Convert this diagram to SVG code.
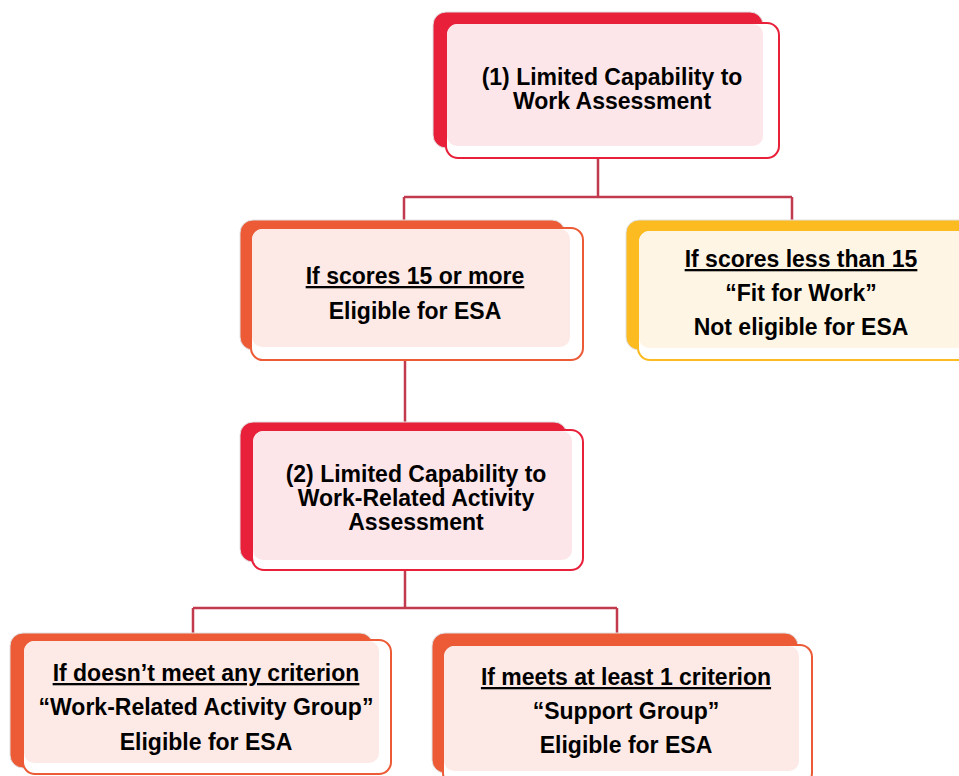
<svg xmlns="http://www.w3.org/2000/svg" width="959" height="776" viewBox="0 0 959 776">
<style>
text{font-family:"Liberation Sans",Arial,sans-serif;font-weight:bold;font-size:23px;fill:#000;text-anchor:middle}
.u{text-decoration:underline}
.conn{fill:none;stroke:#c23a4e;stroke-width:2.5}
.red .back{fill:#e8203a}
.red .frame{fill:#fff;stroke:#e8203a;stroke-width:2}
.red .fill{fill:#fde6e9}
.org .back{fill:#ec5a36}
.org .frame{fill:#fff;stroke:#ec5a36;stroke-width:2}
.org .fill{fill:#fdeae6}
.yel .back{fill:#fbbb21}
.yel .frame{fill:#fff;stroke:#fbbb21;stroke-width:2}
.yel .fill{fill:#fff5e5}
.back{stroke:#e0e0e0;stroke-width:1}
</style>
<rect width="959" height="776" fill="#fff"/>
<g id="connectors">
<path class="conn" d="M598 158V197M404 197H792M404 197V220M792 197V220"/>
<path class="conn" d="M405 360V422"/>
<path class="conn" d="M405 570V608M193 608H617M193 608V633M617 608V633"/>
</g>
<g id="node1" class="red">
<rect class="back" x="433" y="12" width="330" height="136" rx="13"/>
<rect class="frame" x="446" y="23" width="333" height="135" rx="12"/>
<rect class="fill" x="447" y="24" width="316" height="122" rx="10"/>
<text x="612" y="85">(1) Limited Capability to</text>
<text x="612" y="109">Work Assessment</text>
</g>
<g id="node2" class="org">
<rect class="back" x="240" y="220" width="325" height="130" rx="13"/>
<rect class="frame" x="251" y="228" width="332" height="132" rx="12"/>
<rect class="fill" x="252" y="229" width="318" height="118" rx="10"/>
<text class="u" x="415" y="284">If scores 15 or more</text>
<text x="415" y="319">Eligible for ESA</text>
</g>
<g id="node3" class="yel">
<rect class="back" x="626" y="220" width="400" height="130" rx="13"/>
<rect class="frame" x="638" y="230" width="400" height="130" rx="12"/>
<rect class="fill" x="639" y="231" width="380" height="117" rx="10"/>
<text class="u" x="801" y="267">If scores less than 15</text>
<text x="801" y="301">“Fit for Work”</text>
<text x="801" y="335">Not eligible for ESA</text>
</g>
<g id="node4" class="red">
<rect class="back" x="240" y="422" width="327" height="140" rx="13"/>
<rect class="frame" x="252" y="430" width="331" height="140" rx="12"/>
<rect class="fill" x="253" y="431" width="319" height="129" rx="10"/>
<text x="416" y="482">(2) Limited Capability to</text>
<text x="416" y="506">Work-Related Activity</text>
<text x="416" y="530">Assessment</text>
</g>
<g id="node5" class="org">
<rect class="back" x="10" y="633" width="363" height="135" rx="13"/>
<rect class="frame" x="23" y="640" width="368" height="134" rx="12"/>
<rect class="fill" x="24" y="641" width="355" height="122" rx="10"/>
<text class="u" x="206" y="681">If doesn’t meet any criterion</text>
<text x="206" y="715">“Work-Related Activity Group”</text>
<text x="206" y="750">Eligible for ESA</text>
</g>
<g id="node6" class="org">
<rect class="back" x="432" y="633" width="366" height="140" rx="13"/>
<rect class="frame" x="443" y="645" width="369" height="140" rx="12"/>
<rect class="fill" x="444" y="646" width="355" height="125" rx="10"/>
<text class="u" x="626" y="685">If meets at least 1 criterion</text>
<text x="626" y="719">“Support Group”</text>
<text x="626" y="753">Eligible for ESA</text>
</g>
</svg>
